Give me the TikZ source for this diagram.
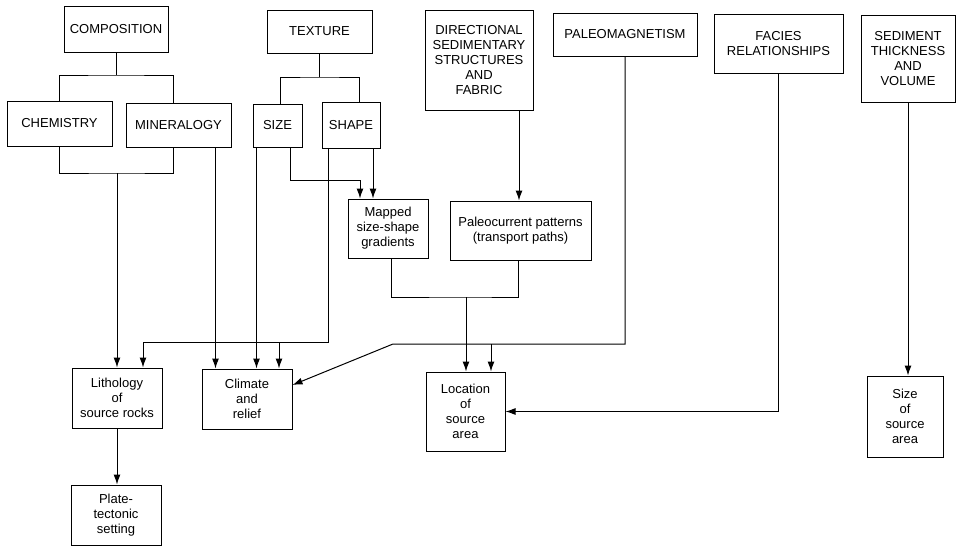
\documentclass[tikz,border=0pt]{standalone}
\usepackage{fontspec}
\setmainfont{Liberation Sans}
\usetikzlibrary{arrows.meta}

\begin{document}
\begin{tikzpicture}[x=1pt, y=-1pt, line width=1pt, >={Latex[length=10pt,width=7pt]},
  every node/.style={font=\fontsize{13}{15}\selectfont},
  box/.style={draw, align=center, inner sep=0pt}]
\useasboundingbox (0,0) rectangle (956,546);
\node[box, minimum width=104pt, minimum height=46pt] (comp) at (116,29) {COMPOSITION};
\node[box, minimum width=105pt, minimum height=43pt] (tex) at (319.5,31.5) {TEXTURE};
\node[box, minimum width=108pt, minimum height=100pt] (dir) at (479,60) {DIRECTIONAL\\ SEDIMENTARY\\ STRUCTURES\\ AND\\ FABRIC};
\node[box, minimum width=144pt, minimum height=43pt] (paleo) at (625,34.5) {PALEOMAGNETISM};
\node[box, minimum width=129pt, minimum height=59pt] (facies) at (778.5,43.5) {FACIES\\ RELATIONSHIPS};
\node[box, minimum width=94pt, minimum height=87pt] (sed) at (908,58.5) {SEDIMENT\\ THICKNESS\\ AND\\ VOLUME};
\node[box, minimum width=105pt, minimum height=45pt] (chem) at (59.5,123.5) {CHEMISTRY};
\node[box, minimum width=105pt, minimum height=44pt] (miner) at (178.5,125) {MINERALOGY};
\node[box, minimum width=49pt, minimum height=43pt] (size) at (277.5,125.5) {SIZE};
\node[box, minimum width=58pt, minimum height=46pt] (shape) at (351,125) {SHAPE};
\node[box, minimum width=80pt, minimum height=59pt] (mapped) at (388,228.5) {Mapped\\ size-shape\\ gradients};
\node[box, minimum width=141pt, minimum height=59pt] (paleocur) at (520.5,230.5) {Paleocurrent patterns\\ (transport paths)};
\node[box, minimum width=90pt, minimum height=60pt] (litho) at (117,398) {Lithology\\ of\\ source rocks};
\node[box, minimum width=90pt, minimum height=60pt] (climate) at (247,399) {Climate\\ and\\ relief};
\node[box, minimum width=79pt, minimum height=79pt] (location) at (465.5,411.5) {Location\\ of\\ source\\ area};
\node[box, minimum width=76pt, minimum height=81pt] (sizearea) at (905,416.5) {Size\\ of\\ source\\ area};
\node[box, minimum width=90pt, minimum height=60pt] (plate) at (116,515) {Plate-\\ tectonic\\ setting};
\coordinate (compj) at (116,75);
\coordinate (texj) at (319.5,77);
\coordinate (cmj) at (117,173);
\coordinate (sizej) at (360,180);
\coordinate (lithoin) at (143,342);
\coordinate (climin) at (279,342);
\coordinate (mpj) at (466,297);
\coordinate (pmj) at (393,344);
\coordinate (locin) at (491,344);
\draw (comp) -- (compj);
\draw (chem.north) |- (compj) -| ([xshift=-5.5pt]miner.north);
\draw (tex) -- (texj);
\draw ([xshift=2.5pt]size.north) |- (texj) -| ([xshift=8pt]shape.north);
\draw (chem.south) |- (cmj) -| ([xshift=-5.5pt]miner.south);
\draw[->] (cmj) -- (cmj |- litho.north);
\draw[->] ([xshift=37pt]miner.south) -- ([xshift=37pt]miner.south |- climate.north);
\draw[->] ([xshift=-21pt]size.south) -- ([xshift=-21pt]size.south |- climate.north);
\draw[->] ([xshift=12.5pt]size.south) |- (sizej) -- (sizej |- mapped.north);
\draw[->] ([xshift=22pt]shape.south) -- ([xshift=22pt]shape.south |- mapped.north);
\draw[->] ([xshift=-23pt]shape.south) |- (lithoin) -- (lithoin |- litho.north);
\draw[->] (climin) -- (climin |- climate.north);
\draw[->] ([xshift=40pt]dir.south) -- ([xshift=40pt]dir.south |- paleocur.north);
\draw ([xshift=3pt]mapped.south) |- (mpj) -| ([xshift=-2.5pt]paleocur.south);
\draw[->] (mpj) -- (mpj |- location.north);
\draw[->] (paleo) |- (pmj) -- ([yshift=14pt]climate.east);
\draw[->] (locin) -- (locin |- location.north);
\draw[->] (facies) |- (location.east);
\draw[->] (sed) -- (sed |- sizearea.north);
\draw[->] (litho.south) -- (litho.south |- plate.north);
\end{tikzpicture}
\end{document}
